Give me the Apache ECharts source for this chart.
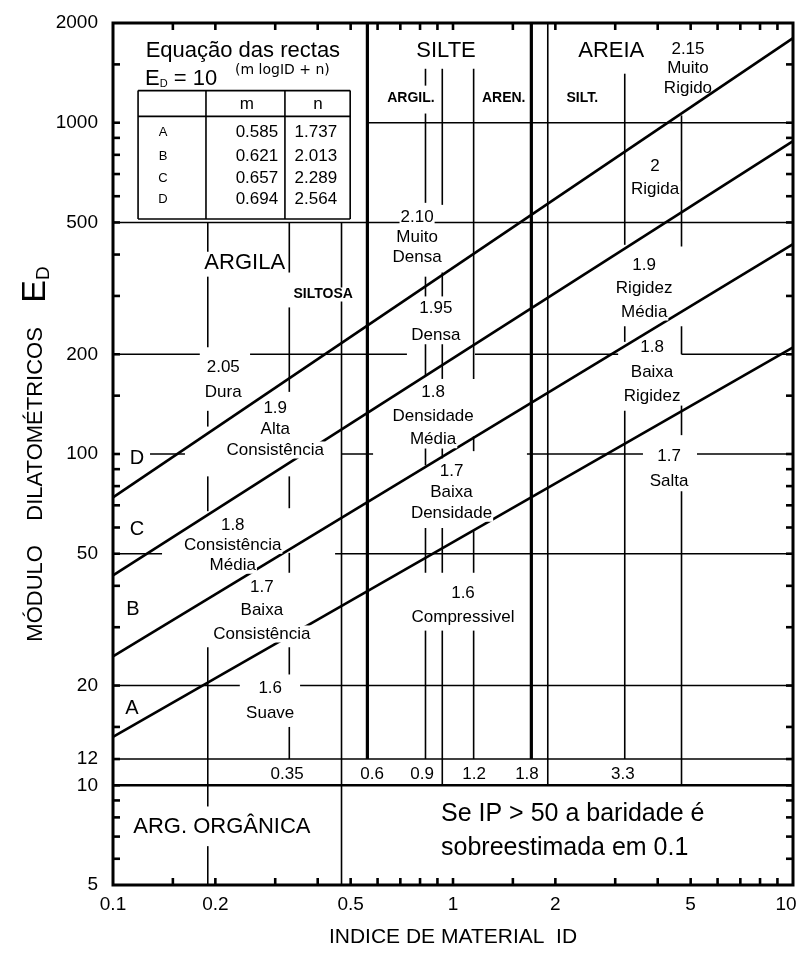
<!DOCTYPE html>
<html>
<head>
<meta charset="utf-8">
<title>Módulo dilatométrico vs índice de material</title>
<script src="https://cdn.jsdelivr.net/npm/echarts@6/dist/echarts.min.js"></script>
<style>
html,body{margin:0;padding:0;background:#fff;}
#chart{width:801px;height:953px;}
</style>
</head>
<body>
<div id="chart"></div>
<script>
// ================= DATA =================
const xTickValues = [0.1, 0.2, 0.5, 1, 2, 5, 10];
const xTickLabels = ['0.1', '0.2', '0.5', '1', '2', '5', '10'];
const yTickValues = [5, 10, 12, 20, 50, 100, 200, 500, 1000, 2000];
const yTickLabels = ['5', '10', '12', '20', '50', '100', '200', '500', '1000', '2000'];
const xMinorTicks = [0.15, 0.2, 0.3, 0.4, 0.5, 0.6, 0.7, 0.8, 0.9, 1, 1.5, 2, 3, 4, 5, 6, 7, 8, 9];
const yMinorTicks = [6, 7, 8, 9, 10, 12, 15, 20, 30, 40, 50, 60, 70, 80, 90, 100, 150, 200, 300, 400, 500, 600, 700, 800, 900, 1000, 1500];

// the four straight lines E_D = 10^(m log ID + n)
const lineNames = ['A', 'B', 'C', 'D'];
const lineM = ['0.585', '0.621', '0.657', '0.694'];
const lineN = ['1.737', '2.013', '2.289', '2.564'];
const lineID = [0.1, 10];
const lineEDStart = [14, 24.5, 43, 74];     // E_D read at ID = 0.1
const lineEDEnd = [210, 430, 880, 1800];    // E_D read at ID = 10

// zone boundary lines
// horizontal: [E_D, ID from, ID to]
const hLines = [
  [1000, 0.56, 10],
  [500, 0.1, 10],
  [200, 0.1, 0.18], [200, 0.253, 0.732], [200, 1.16, 3.06], [200, 4.7, 10],
  [100, 0.1285, 0.1628], [100, 0.47, 0.582], [100, 1.65, 3.62], [100, 5.22, 10],
  [50, 0.1, 0.1394], [50, 0.45, 10],
  [20, 0.1, 0.236], [20, 0.355, 10],
  [12, 0.1, 10]
];
const hLinesHeavy = [[10, 0.1, 10]];
// vertical: [ID, E_D from, E_D to]
const vLines = [
  [0.19, 500, 405], [0.19, 343, 210], [0.19, 135, 121], [0.19, 85.6, 67.2], [0.19, 26.1, 8.63], [0.19, 6.55, 5],
  [0.33, 500, 353], [0.33, 277, 154], [0.33, 85.6, 68.6], [0.33, 50.3, 43.8], [0.33, 26.1, 21.6], [0.33, 15, 12],
  [0.47, 500, 5],
  [0.83, 1455, 1294], [0.83, 1066, 573], [0.83, 343, 299], [0.83, 215, 172], [0.83, 104, 92.4], [0.83, 59.8, 43.8], [0.83, 29.3, 12],
  [0.93, 1455, 565], [0.93, 353, 299], [0.93, 215, 168.5], [0.93, 104, 97], [0.93, 59.8, 43.8], [0.93, 29.3, 10],
  [1.15, 1455, 168.5], [1.15, 113, 102], [1.15, 58.5, 43.8], [1.15, 29.3, 12],
  [1.9, 2000, 10],
  [3.2, 1406, 428], [3.2, 243, 218], [3.2, 135, 12],
  [4.7, 1052, 423], [4.7, 243, 200], [4.7, 140, 114], [4.7, 77.2, 10]
];
const vLinesHeavy = [[0.56, 2000, 12], [1.7, 2000, 12]];

// ID boundary values written in the strip between E_D = 10 and 12
const stripTexts = ['0.35', '0.6', '0.9', '1.2', '1.8', '3.3'];
const stripID = [0.325, 0.578, 0.811, 1.153, 1.65, 3.16];

// ================= ANNOTATIONS (anchored in data units) =================
const zoneLabels = [
  { at: [0.784, 450], text: '2.10\nMuito\nDensa', lh: 20 },
  { at: [0.211, 168], text: '2.05\nDura', lh: 25 },
  { at: [0.30, 119], text: '1.9\nAlta\nConsistência', lh: 21 },
  { at: [0.89, 250], text: '1.95\nDensa', lh: 27 },
  { at: [0.874, 130], text: '1.8\nDensidade\nMédia', lh: 23.5 },
  { at: [0.99, 76.6], text: '1.7\nBaixa\nDensidade', lh: 21 },
  { at: [0.225, 53], text: '1.8\nConsistência\nMédia', lh: 20 },
  { at: [0.274, 33.7], text: '1.7\nBaixa\nConsistência', lh: 23.5 },
  { at: [0.29, 18], text: '1.6\nSuave', lh: 25 },
  { at: [1.07, 35], text: '1.6\nCompressivel', lh: 24 },
  { at: [3.93, 680], text: '2\nRigida', lh: 23 },
  { at: [3.65, 316], text: '1.9\nRigidez\nMédia', lh: 23.5 },
  { at: [3.85, 177], text: '1.8\nBaixa\nRigidez', lh: 24.5 },
  { at: [4.32, 90.5], text: '1.7\nSalta', lh: 25 },
  { at: [4.91, 1455], text: '2.15\nMuito\nRigido', lh: 19.5, noBg: true }
];
const bigLabels = [
  { at: [0.244, 378], text: 'ARGILA' },
  { at: [0.954, 1650], text: 'SILTE' },
  { at: [2.92, 1650], text: 'AREIA' },
  { at: [0.209, 7.5], text: 'ARG. ORGÂNICA' },
  { at: [0.241, 1650], text: 'Equação das rectas' }
];
const smallCapsLabels = [
  { at: [0.415, 303], text: 'SILTOSA' },
  { at: [0.752, 1190], text: 'ARGIL.' },
  { at: [1.41, 1190], text: 'AREN.' },
  { at: [2.40, 1190], text: 'SILT.' }
];
const lineLetterAt = [[0.1137, 17], [0.1145, 34], [0.1177, 59], [0.1177, 97]];
const noteLabel = { at: [0.922, 7.26], text: 'Se IP > 50 a baridade é\nsobreestimada em 0.1', lh: 34 };

// equation table layout (data units)
const tableX = [0.1185, 0.1877, 0.3204, 0.4984];
const tableY = [1250, 1045, 512];
const tableRowED = [935, 792, 680, 588];
const tableColID = [0.1403, 0.265, 0.395];
const tableHeadED = 1135;
const tableHeadID = [0.2477, 0.401];
const formulaAt = [0.1242, 1358];
const formulaExpAt = [0.2285, 1436];

// ================= RENDERING =================
const FONT = '"Liberation Sans", Arial, Helvetica, sans-serif';
const BLACK = '#000';
const TICK_LEN = 7;

function segSeries(segs, width, z) {
  return {
    type: 'custom', coordinateSystem: 'cartesian2d', silent: true, z: z,
    encode: { x: [0, 2], y: [1, 3] },
    data: segs,
    renderItem: function (params, api) {
      const p1 = api.coord([api.value(0), api.value(1)]);
      const p2 = api.coord([api.value(2), api.value(3)]);
      return { type: 'line', shape: { x1: p1[0], y1: p1[1], x2: p2[0], y2: p2[1] },
               style: { stroke: BLACK, lineWidth: width, lineCap: 'butt' } };
    }
  };
}
const hToSeg = s => [s[1], s[0], s[2], s[0]];
const vToSeg = s => [s[0], s[1], s[0], s[2]];

function textSeries(items, font, opt) {
  opt = opt || {};
  return {
    type: 'custom', coordinateSystem: 'cartesian2d', silent: true, z: opt.z || 10,
    data: items.map(it => [it.at[0], it.at[1]]),
    renderItem: function (params, api) {
      const it = items[params.dataIndex];
      const p = api.coord([api.value(0), api.value(1)]);
      const lines = it.rich ? [it.text] : String(it.text).split('\n');
      const lh = it.lh || 20;
      const children = lines.map((s, i) => {
        const style = {
          text: s, font: it.font || font, fill: BLACK,
          align: it.align || opt.align || 'center', verticalAlign: 'middle'
        };
        if (it.rich) style.rich = it.rich;
        if (opt.bg && !it.noBg) { style.backgroundColor = '#fff'; style.padding = [0, 1]; }
        return { type: 'text', x: p[0] + (opt.dx || 0) + (it.dx || 0),
                 y: p[1] + (i - (lines.length - 1) / 2) * lh + (opt.dy || 0), style: style };
      });
      return { type: 'group', children: children };
    }
  };
}

const series = [];

// zone boundary lines
series.push(segSeries(hLines.map(hToSeg).concat(vLines.map(vToSeg)), 1.6, 2));
series.push(segSeries(hLinesHeavy.map(hToSeg), 2.4, 2));
series.push(segSeries(vLinesHeavy.map(vToSeg), 3.2, 2));

// equation table frame
const tableSegs = tableY.map(y => [tableX[0], y, tableX[3], y])
  .concat(tableX.map(x => [x, tableY[0], x, tableY[2]]));
series.push(segSeries(tableSegs, 1.6, 2));

// the four lines A-D
lineNames.forEach((n, i) => {
  series.push({
    type: 'line', name: n, z: 4, silent: true, showSymbol: false, symbol: 'none',
    lineStyle: { color: BLACK, width: 2.6 },
    data: [[lineID[0], lineEDStart[i]], [lineID[1], lineEDEnd[i]]]
  });
});

// ticks on all four sides, pointing inside
series.push({
  type: 'custom', silent: true, z: 6, data: xMinorTicks.map(v => [v, 5]),
  renderItem: function (params, api) {
    const v = api.value(0);
    const b = api.coord([v, 5]), t = api.coord([v, 2000]);
    const st = { stroke: BLACK, lineWidth: 2.6 };
    return { type: 'group', children: [
      { type: 'line', shape: { x1: b[0], y1: b[1], x2: b[0], y2: b[1] - TICK_LEN }, style: st },
      { type: 'line', shape: { x1: t[0], y1: t[1], x2: t[0], y2: t[1] + TICK_LEN }, style: st }
    ] };
  }
});
series.push({
  type: 'custom', silent: true, z: 6, data: yMinorTicks.map(v => [0.1, v]),
  renderItem: function (params, api) {
    const v = api.value(1);
    const l = api.coord([0.1, v]), r = api.coord([10, v]);
    const st = { stroke: BLACK, lineWidth: 2.6 };
    return { type: 'group', children: [
      { type: 'line', shape: { x1: l[0], y1: l[1], x2: l[0] + TICK_LEN, y2: l[1] }, style: st },
      { type: 'line', shape: { x1: r[0], y1: r[1], x2: r[0] - TICK_LEN, y2: r[1] }, style: st }
    ] };
  }
});

// tick labels
series.push(textSeries(xTickValues.map((v, i) => ({
  at: [v, 5], text: xTickLabels[i], dx: (i === xTickValues.length - 1 ? -7 : 0)
})), '19px ' + FONT, { dy: 20 }));
series.push(textSeries(yTickValues.map((v, i) => ({ at: [0.1, v], text: yTickLabels[i] })),
  '19px ' + FONT, { align: 'right', dx: -15 }));

// strip values
series.push(textSeries(stripID.map((v, i) => ({ at: [v, 10.8], text: stripTexts[i] })), '17px ' + FONT));

// region texts
series.push(textSeries(zoneLabels, '17px ' + FONT, { bg: true }));
series.push(textSeries(bigLabels, '22px ' + FONT, { bg: true }));
series.push(textSeries(smallCapsLabels, 'bold 14px ' + FONT, { bg: true }));
series.push(textSeries(lineNames.map((n, i) => ({ at: lineLetterAt[i], text: n })), '20px ' + FONT, { bg: true }));
series.push(textSeries([noteLabel], '25px ' + FONT, { align: 'left' }));

// equation block
series.push(textSeries([{
  at: formulaAt, text: '{e|E}{d|D}{e| = 10}', rich: {
    e: { font: '22px ' + FONT, fill: BLACK },
    d: { font: '11px ' + FONT, fill: BLACK, verticalAlign: 'bottom' }
  }
}], '22px ' + FONT, { align: 'left' }));
series.push(textSeries([{ at: formulaExpAt, text: '(m logID + n)' }], '14px "DejaVu Sans", ' + FONT, { align: 'left' }));
series.push(textSeries([
  { at: [tableHeadID[0], tableHeadED], text: 'm' },
  { at: [tableHeadID[1], tableHeadED], text: 'n' }
], '17px ' + FONT));
const tableCells = [];
lineNames.forEach((n, i) => {
  tableCells.push({ at: [tableColID[0], tableRowED[i]], text: n, font: '13px ' + FONT });
  tableCells.push({ at: [tableColID[1], tableRowED[i]], text: lineM[i] });
  tableCells.push({ at: [tableColID[2], tableRowED[i]], text: lineN[i] });
});
series.push(textSeries(tableCells, '17px ' + FONT));

const chart = echarts.init(document.getElementById('chart'), null, { renderer: 'canvas' });
chart.setOption({
  animation: false,
  backgroundColor: '#fff',
  grid: { left: 113, right: 8, top: 23, bottom: 64, show: true, borderColor: BLACK, borderWidth: 3, backgroundColor: 'transparent' },
  xAxis: {
    type: 'log', logBase: 10, min: 0.1, max: 10,
    axisLine: { show: false }, axisTick: { show: false }, axisLabel: { show: false }, splitLine: { show: false },
    name: 'INDICE DE MATERIAL  ID', nameLocation: 'middle', nameGap: 42,
    nameTextStyle: { color: BLACK, fontFamily: FONT, fontSize: 21 }
  },
  yAxis: {
    type: 'log', logBase: 10, min: 5, max: 2000,
    axisLine: { show: false }, axisTick: { show: false }, axisLabel: { show: false }, splitLine: { show: false },
    name: 'MÓDULO    DILATOMÉTRICOS    {e|E}{d|D}', nameLocation: 'middle', nameGap: 60, nameRotate: 90,
    nameTextStyle: {
      color: BLACK, fontFamily: FONT, fontSize: 22,
      rich: {
        e: { fontFamily: FONT, fontSize: 34, color: BLACK },
        d: { fontFamily: FONT, fontSize: 19, color: BLACK, verticalAlign: 'bottom' }
      }
    }
  },
  series: series
});
</script>
</body>
</html>
